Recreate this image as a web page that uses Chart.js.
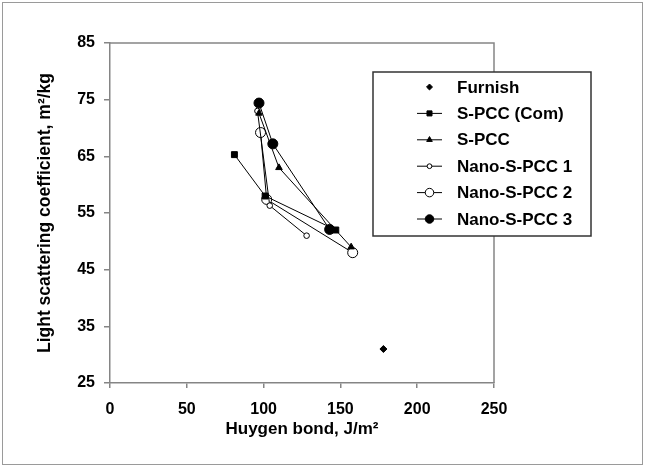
<!DOCTYPE html>
<html>
<head>
<meta charset="utf-8">
<script src="https://cdn.jsdelivr.net/npm/chart.js@4.4.1/dist/chart.umd.min.js"></script>
<style>
  html, body { margin: 0; padding: 0; background: #fff; }
  #wrap { width: 645px; height: 467px; position: relative; }
</style>
</head>
<body>
<div id="wrap"><canvas id="chart" width="645" height="467"></canvas></div>
<script>
// values
const seriesNames = ['Furnish', 'S-PCC (Com)', 'S-PCC', 'Nano-S-PCC 1', 'Nano-S-PCC 2', 'Nano-S-PCC 3'];
const furnishX = [178];
const furnishY = [31];
const sPccComX = [147, 101, 81];
const sPccComY = [52, 58, 65.3];
const sPccX = [157, 110, 97];
const sPccY = [49, 63, 72.6];
const nano1X = [128, 104, 96];
const nano1Y = [51, 56.3, 73];
const nano2X = [158, 102, 98];
const nano2Y = [48, 57.4, 69.2];
const nano3X = [143, 106, 97];
const nano3Y = [52.1, 67.2, 74.4];
const xTicks = [0, 50, 100, 150, 200, 250];
const yTicks = [25, 35, 45, 55, 65, 75, 85];

const FONT = 'Arial, "Liberation Sans", sans-serif';
const AXIS_GREY = '#858585';

function pts(xs, ys) {
  return xs.map((x, i) => ({ x: x, y: ys[i] }));
}

function series(label, xs, ys, style, radius, fill, line) {
  return {
    label: label,
    data: pts(xs, ys),
    showLine: line,
    borderColor: '#000',
    borderWidth: 1,
    pointStyle: style,
    pointRadius: radius,
    pointHoverRadius: radius,
    pointBackgroundColor: fill,
    pointBorderColor: '#000',
    pointBorderWidth: 1
  };
}

const datasets = [
  series(seriesNames[0], furnishX, furnishY, 'rectRot', 3.5, '#000', false),
  series(seriesNames[1], sPccComX, sPccComY, 'rect', 4.2, '#000', true),
  series(seriesNames[2], sPccX, sPccY, 'triangle', 3.8, '#000', true),
  series(seriesNames[3], nano1X, nano1Y, 'circle', 2.8, '#fff', true),
  series(seriesNames[4], nano2X, nano2Y, 'circle', 5, '#fff', true),
  series(seriesNames[5], nano3X, nano3Y, 'circle', 5, '#000', true)
];

// frame around picture, plot border and the boxed legend
const decor = {
  id: 'decor',
  beforeDraw(chart) {
    const ctx = chart.ctx;
    ctx.save();
    ctx.fillStyle = '#fff';
    ctx.fillRect(0, 0, chart.width, chart.height);
    ctx.strokeStyle = '#9a9a9a';
    ctx.lineWidth = 1;
    ctx.strokeRect(2.5, 2.5, chart.width - 5, chart.height - 5);
    ctx.restore();
  },
  afterDatasetsDraw(chart) {
    const ctx = chart.ctx;
    const a = chart.chartArea;
    ctx.save();
    ctx.strokeStyle = AXIS_GREY;
    ctx.lineWidth = 1.5;
    ctx.beginPath();
    ctx.moveTo(a.left, a.top);
    ctx.lineTo(a.right, a.top);
    ctx.lineTo(a.right, a.bottom);
    ctx.stroke();

    // legend
    const bx = 373, by = 72, bw = 218, bh = 164;
    ctx.fillStyle = '#fff';
    ctx.fillRect(bx, by, bw, bh);
    ctx.strokeStyle = '#333';
    ctx.lineWidth = 1.5;
    ctx.strokeRect(bx, by, bw, bh);
    ctx.font = 'bold 17px ' + FONT;
    ctx.textBaseline = 'middle';
    ctx.textAlign = 'left';
    chart.data.datasets.forEach((ds, i) => {
      const y = by + 15 + i * 26.4;
      if (ds.showLine) {
        ctx.strokeStyle = '#000';
        ctx.lineWidth = 1;
        ctx.beginPath();
        ctx.moveTo(417, y);
        ctx.lineTo(442, y);
        ctx.stroke();
      }
      ctx.fillStyle = ds.pointBackgroundColor;
      ctx.strokeStyle = '#000';
      ctx.lineWidth = 1;
      Chart.helpers.drawPoint(ctx, {
        pointStyle: ds.pointStyle,
        radius: ds.pointRadius * 0.85,
        rotation: 0,
        borderWidth: 1
      }, 429.5, y);
      ctx.fillStyle = '#000';
      ctx.fillText(ds.label, 457, y + 1);
    });
    ctx.restore();
  }
};

new Chart(document.getElementById('chart'), {
  type: 'scatter',
  data: { datasets: datasets },
  options: {
    responsive: false,
    animation: false,
    layout: { padding: { left: 35, top: 43, right: 151, bottom: 27 } },
    plugins: { legend: { display: false }, tooltip: { enabled: false } },
    scales: {
      x: {
        type: 'linear',
        min: 0,
        max: 250,
        afterBuildTicks: (s) => { s.ticks = xTicks.map(v => ({ value: v })); },
        afterFit: (s) => { s.height = 57; },
        grid: { drawOnChartArea: false, drawTicks: true, tickLength: 5, color: AXIS_GREY, lineWidth: 1.5 },
        border: { color: AXIS_GREY, width: 1.5 },
        ticks: { color: '#000', padding: 12, font: { family: FONT, size: 16, weight: 'bold' } },
        title: {
          display: true,
          text: 'Huygen bond, J/m²',
          color: '#000',
          padding: 0,
          font: { family: FONT, size: 17, weight: 'bold' }
        }
      },
      y: {
        type: 'linear',
        min: 25,
        max: 85,
        afterBuildTicks: (s) => { s.ticks = yTicks.map(v => ({ value: v })); },
        afterFit: (s) => { s.width = 75; },
        grid: { drawOnChartArea: false, drawTicks: true, tickLength: 6, color: AXIS_GREY, lineWidth: 1.5 },
        border: { color: AXIS_GREY, width: 1.5 },
        ticks: { color: '#000', padding: 9, font: { family: FONT, size: 16, weight: 'bold' } },
        title: {
          display: true,
          text: 'Light scattering coefficient, m²/kg',
          color: '#000',
          padding: 0,
          font: { family: FONT, size: 17.5, weight: 'bold' }
        }
      }
    }
  },
  plugins: [decor]
});
</script>
</body>
</html>
